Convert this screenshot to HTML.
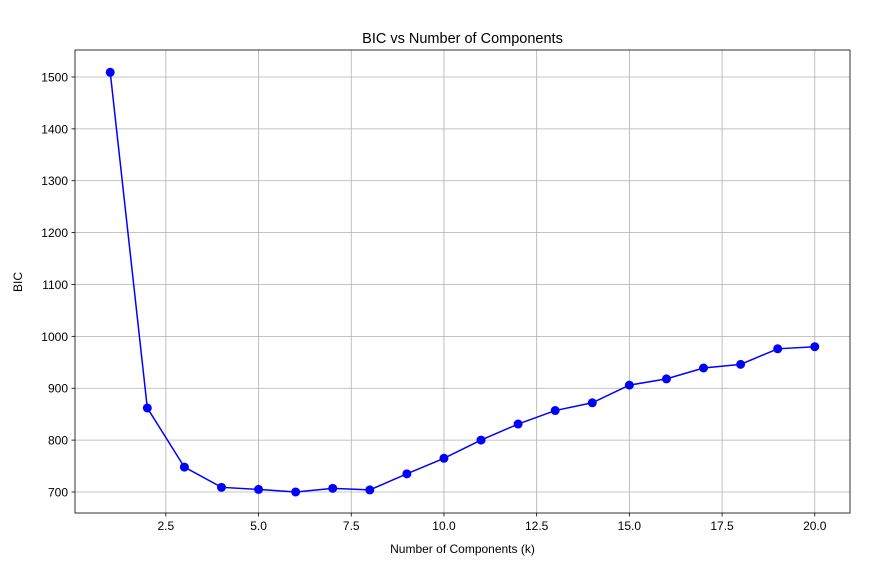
<!DOCTYPE html>
<html><head><meta charset="utf-8"><style>
body{margin:0;background:#fff;font-family:"Liberation Sans","DejaVu Sans",sans-serif;}
svg text{font-family:"Liberation Sans","DejaVu Sans",sans-serif;}
</style></head><body>
<svg id="chart" width="889" height="570">
<rect width="889" height="570" fill="#fff"/>
<g id="grid"></g>
<rect x="75" y="50" width="775" height="463" fill="none" stroke="#000" stroke-width="0.8"/>
<g id="ticks"></g>
<g id="series"></g>
<text x="462.5" y="43" text-anchor="middle" font-size="14.5">BIC vs Number of Components</text>
<text x="462.5" y="553" text-anchor="middle" font-size="12">Number of Components (k)</text>
<text x="22" y="282" text-anchor="middle" font-size="12" transform="rotate(-90 22 282)">BIC</text>
</svg>
<script>
const ks=[1,2,3,4,5,6,7,8,9,10,11,12,13,14,15,16,17,18,19,20];
const bic=[1509,862,748,709,705,700,707,704,735,765,800,831,857,872,906,918,939,946,976,980];
const xTicks=[2.5,5.0,7.5,10.0,12.5,15.0,17.5,20.0];
const yTicks=[700,800,900,1000,1100,1200,1300,1400,1500];
const L=75,R=850,T=50,B=513;
const xMin=0.05,xMax=20.95,yMin=659.5,yMax=1552;
const X=v=>L+(v-xMin)/(xMax-xMin)*(R-L);
const Y=v=>B-(v-yMin)/(yMax-yMin)*(B-T);
const NS="http://www.w3.org/2000/svg";
function mk(tag,attrs,parent){const e=document.createElementNS(NS,tag);for(const k in attrs)e.setAttribute(k,attrs[k]);document.getElementById(parent).appendChild(e);return e;}
xTicks.forEach(t=>{
 const x=X(t);
 let g=mk('line',{x1:x,x2:x,y1:T,y2:B,stroke:'#b0b0b0','stroke-width':0.8},'grid');
 
 
 mk('line',{x1:x,x2:x,y1:B,y2:B+3.5,stroke:'#000','stroke-width':0.8},'ticks');
 let tx=mk('text',{x:x,y:B+17,'text-anchor':'middle','font-size':12},'ticks');
 tx.textContent=t.toFixed(1);
 
 
});
yTicks.forEach(t=>{
 const y=Y(t);
 let g=mk('line',{x1:L,x2:R,y1:y,y2:y,stroke:'#b0b0b0','stroke-width':0.8},'grid');
 
 
 mk('line',{x1:L-3.5,x2:L,y1:y,y2:y,stroke:'#000','stroke-width':0.8},'ticks');
 let tx=mk('text',{x:L-7,y:y+4.5,'text-anchor':'end','font-size':12},'ticks');
 tx.textContent=t;
 
 
});
const pts=ks.map((k,i)=>X(k)+','+Y(bic[i])).join(' ');
let pl=mk('polyline',{points:pts,fill:'none',stroke:'#0000ff','stroke-width':1.5},'series');


ks.forEach((k,i)=>{
 let c=mk('circle',{cx:X(k),cy:Y(bic[i]),r:4.5,fill:'#0000ff'},'series');
 
 
});
</script>
</body></html>
